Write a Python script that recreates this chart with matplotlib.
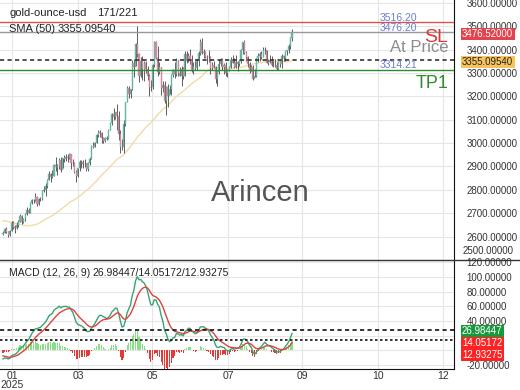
import numpy as np
import pandas as pd
import matplotlib
matplotlib.use("Agg")
import matplotlib.pyplot as plt
from matplotlib.lines import Line2D

plt.rcParams['font.family'] = ['Liberation Sans', 'DejaVu Sans']

# ---- data -------------------------------------------------------------
# 50 bars of history before the visible window (needed for SMA 50 / MACD)
prev_close = [2649, 2663, 2674, 2693, 2721, 2720, 2748, 2715, 2736, 2747,
              2743, 2774, 2788, 2744, 2736, 2736, 2743, 2659, 2706, 2684,
              2619, 2598, 2573, 2565, 2563, 2612, 2631, 2650, 2670, 2716,
              2624, 2633, 2637, 2643, 2640, 2643, 2650, 2632, 2633, 2660,
              2694, 2718, 2680, 2648, 2652, 2646, 2586, 2594, 2622, 2613]

# visible 171 bars
close = [2617, 2634, 2621, 2606, 2624, 2658, 2640, 2635, 2648, 2662,
         2690, 2662, 2677, 2697, 2715, 2703, 2745, 2755, 2755, 2770,
         2740, 2763, 2760, 2795, 2798, 2815, 2842, 2867, 2856, 2861,
         2908, 2898, 2904, 2928, 2883, 2935, 2933, 2939, 2936, 2952,
         2915, 2916, 2876, 2858, 2893, 2918, 2920, 2910, 2910, 2889,
         2916, 2934, 2988, 2984, 3001, 3034, 3047, 3044, 3022, 3011,
         3020, 3019, 3057, 3084, 3124, 3112, 3134, 3114, 3037, 2982,
         2982, 3082, 3175, 3237, 3211, 3230, 3342, 3327, 3424, 3381,
         3288, 3349, 3319, 3343, 3317, 3288, 3239, 3240, 3334, 3431,
         3365, 3306, 3325, 3235, 3248, 3178, 3240, 3203, 3230, 3290,
         3314, 3295, 3357, 3300, 3288, 3318, 3289, 3381, 3352, 3374,
         3352, 3310, 3325, 3323, 3354, 3386, 3432, 3385, 3388, 3369,
         3368, 3368, 3323, 3332, 3327, 3274, 3303, 3339, 3357, 3326,
         3336, 3301, 3313, 3324, 3355, 3344, 3324, 3347, 3339, 3350,
         3397, 3432, 3387, 3368, 3337, 3314, 3326, 3275, 3289, 3363,
         3373, 3380, 3368, 3397, 3398, 3342, 3348, 3356, 3335, 3336,
         3332, 3315, 3348, 3339, 3372, 3365, 3393, 3397, 3416, 3448,
         3476.52]
high = [2622, 2638, 2640, 2624, 2630, 2665, 2665, 2648, 2661, 2670,
        2697, 2694, 2680, 2702, 2725, 2723, 2746, 2763, 2759, 2786,
        2772, 2765, 2770, 2799, 2817, 2830, 2845, 2882, 2872, 2886,
        2911, 2942, 2910, 2935, 2942, 2937, 2947, 2955, 2954, 2956,
        2947, 2930, 2920, 2883, 2894, 2928, 2927, 2927, 2930, 2914,
        2921, 2941, 2990, 3004, 3004, 3038, 3055, 3057, 3047, 3028,
        3025, 3032, 3059, 3087, 3128, 3149, 3135, 3167, 3136, 3055,
        3017, 3099, 3176, 3245, 3245, 3230, 3357, 3358, 3430, 3500,
        3386, 3368, 3371, 3352, 3349, 3328, 3294, 3269, 3337, 3435,
        3437, 3414, 3345, 3327, 3266, 3264, 3246, 3253, 3250, 3295,
        3318, 3345, 3365, 3349, 3326, 3330, 3325, 3393, 3392, 3385,
        3403, 3375, 3345, 3349, 3360, 3396, 3445, 3451, 3404, 3395,
        3376, 3398, 3371, 3347, 3350, 3328, 3309, 3358, 3365, 3366,
        3343, 3345, 3317, 3331, 3369, 3375, 3366, 3377, 3352, 3361,
        3402, 3433, 3439, 3394, 3373, 3345, 3334, 3334, 3315, 3363,
        3385, 3390, 3392, 3409, 3409, 3400, 3358, 3375, 3374, 3349,
        3358, 3345, 3351, 3351, 3379, 3376, 3394, 3398, 3423, 3454,
        3490]
low = [2605, 2614, 2616, 2597, 2603, 2623, 2634, 2614, 2632, 2643,
       2662, 2656, 2659, 2665, 2694, 2700, 2703, 2741, 2742, 2752,
       2730, 2737, 2752, 2757, 2789, 2772, 2809, 2842, 2834, 2852,
       2860, 2880, 2864, 2891, 2877, 2893, 2921, 2924, 2919, 2931,
       2889, 2904, 2873, 2832, 2857, 2880, 2895, 2894, 2897, 2880,
       2880, 2905, 2932, 2978, 2982, 3000, 3025, 3028, 2999, 3000,
       3004, 3012, 3016, 3055, 3076, 3100, 3105, 3054, 3015, 2957,
       2970, 2957, 3072, 3174, 3194, 3192, 3229, 3284, 3329, 3367,
       3260, 3283, 3268, 3266, 3301, 3268, 3202, 3222, 3231, 3324,
       3358, 3287, 3294, 3207, 3219, 3171, 3121, 3154, 3208, 3204,
       3284, 3280, 3287, 3286, 3285, 3245, 3276, 3286, 3344, 3345,
       3338, 3306, 3294, 3312, 3313, 3331, 3377, 3382, 3366, 3363,
       3340, 3348, 3295, 3311, 3321, 3255, 3246, 3296, 3329, 3311,
       3297, 3287, 3283, 3310, 3321, 3342, 3320, 3320, 3310, 3330,
       3344, 3383, 3381, 3351, 3325, 3301, 3308, 3268, 3281, 3282,
       3347, 3352, 3359, 3367, 3380, 3341, 3332, 3343, 3331, 3324,
       3324, 3314, 3311, 3326, 3321, 3351, 3351, 3376, 3386, 3404,
       3436]

month_labels = ["01\n2025", "03", "05", "07", "09", "10", "12"]
month_pos = [5.3, 44.1, 87.6, 132.4, 175.9, 220.6, 258.8]

sl_level, at_price, tp1_level = 3516.20, 3476.20, 3314.21
last_price, sma_last = "3476.52000", "3355.09540"
macd_txt = ["26.98447", "14.05172", "12.93275"]
macd_last, signal_last = 26.98447, 14.05172

# ---- indicators --------------------------------------------------------
allc = pd.Series(prev_close + close, dtype=float)
n0 = len(prev_close)
sma = allc.rolling(50).mean().values[n0:]
ema12 = allc.ewm(span=12, adjust=False).mean()
ema26 = allc.ewm(span=26, adjust=False).mean()
macd = ema12 - ema26
signal = macd.ewm(span=9, adjust=False).mean()
hist = (macd - signal).values[n0:]
macd = macd.values[n0:]
signal = signal.values[n0:]

close = np.array(close, dtype=float)
high = np.array(high, dtype=float)
low = np.array(low, dtype=float)
opn = np.array(prev_close[-1:] + list(close[:-1]), dtype=float)
x = np.arange(len(close))

# ---- figure -------------------------------------------------------------
W, H = 520, 390
fig = plt.figure(figsize=(5.2, 3.9), dpi=100)
def fx(px): return px / W
def fy(py): return 1 - py / H

ax = fig.add_axes([0, fy(260), fx(454), fy(0) - fy(260)])
ax2 = fig.add_axes([0, fy(369), fx(454), fy(260) - fy(369)], sharex=ax)

xl = (-3 / 1.7, (454 - 3) / 1.7)
grid_c = '#e6e6e6'

# price panel
ax.set_xlim(*xl)
ax.set_ylim(2505, 3612)
ax.set_yticks(np.arange(2500, 3700, 100))
ax.yaxis.tick_right()
ax.tick_params(axis='y', length=0, pad=9, labelsize=7, labelcolor='#333333')
ax.yaxis.set_major_formatter(matplotlib.ticker.FormatStrFormatter('%.5f'))
ax.yaxis.get_major_ticks()[0].label2.set_visible(False)
ax.tick_params(axis='x', length=0, labelbottom=False)
ax.set_xticks(month_pos)
ax.grid(True, color=grid_c, lw=0.8)
for s in ['top', 'left', 'bottom']:
    ax.spines[s].set_visible(False)
ax.spines['right'].set_color('#111111')

up = close >= opn
ax.vlines(x, low, high, color='#444444', lw=0.6, zorder=3)
ax.bar(x[up], (close - opn)[up], bottom=opn[up], width=0.7, color='#62b8a4',
       edgecolor='#62b8a4', lw=0.3, zorder=4)
ax.bar(x[~up], (close - opn)[~up], bottom=opn[~up], width=0.7, color='#d8879b',
       edgecolor='#d8879b', lw=0.3, zorder=4)
ax.plot(x, sma, color='#f0dcaa', lw=1, zorder=2)

ax.axhline(sl_level, color='#d9534f', lw=1, zorder=5)
ax.axhline(at_price, color='#999999', lw=1, zorder=5)
ax.axhline(float(sma_last), color='#333333', lw=1.2, ls=(0, (2.5, 2)), zorder=5)
ax.axhline(tp1_level, color='#2e8b2e', lw=1, zorder=5)

# macd panel
ax2.set_xlim(*xl)
ax2.set_ylim(-25.4, 122.9)
ax2.set_yticks([-20, 40, 60, 80, 100, 120])
ax2.set_yticks(np.arange(-20, 140, 20), minor=True)
ax2.yaxis.tick_right()
ax2.tick_params(axis='y', length=0, pad=9, labelsize=7, labelcolor='#333333')
ax2.tick_params(axis='y', which='minor', length=0)
ax2.yaxis.set_major_formatter(matplotlib.ticker.FormatStrFormatter('%.5f'))
ax2.grid(True, which='both', color=grid_c, lw=0.8)
ax2.set_xticks(month_pos)
ax2.set_xticklabels(month_labels, linespacing=0.9)
ax2.tick_params(axis='x', length=0, pad=1.5, labelsize=7.5, labelcolor='#333333')
for s in ['top', 'left']:
    ax2.spines[s].set_visible(False)
ax2.spines['right'].set_color('#111111')
ax2.spines['bottom'].set_color('#111111')

hcol = np.where(hist >= 0, '#86e086', '#e53935')
ax2.bar(x, hist, width=0.6, color=hcol, zorder=2)
ax2.plot(x, macd, color='#3aa374', lw=1, zorder=3)
ax2.plot(x, signal, color='#d9453f', lw=1, zorder=3)
ax2.axhline(macd_last, color='#111111', lw=1.2, ls=(0, (2.5, 2)), zorder=4)
ax2.axhline(signal_last, color='#111111', lw=1.2, ls=(0, (1.5, 1.5)), zorder=4)

# separator line between panels
fig.add_artist(Line2D([0, 1], [fy(260), fy(260)], color='#333333', lw=1))

# ---- texts --------------------------------------------------------------
fig.text(fx(9), fy(13), "gold-ounce-usd", fontsize=8, color='#222222', va='center')
fig.text(fx(97), fy(13), "171/221", fontsize=8, color='#222222', va='center')
fig.text(fx(9), fy(29), "SMA (50)", fontsize=8, color='#222222', va='center')
fig.text(fx(58), fy(29), sma_last, fontsize=8, color='#222222', va='center')

# lowest price label sits just above the panel separator
fig.text(fx(463), fy(251), "2500.00000", fontsize=7, color='#333333', va='center')

for lv, yy in [(sl_level, 18), (at_price, 28), (tp1_level, 65)]:
    fig.text(fx(380), fy(yy), "%.2f" % lv, fontsize=7.5, color='#6a7fd0', va='center')

fig.text(fx(448), fy(37), "SL", fontsize=14, color='#e0343a', ha='right', va='center')
fig.text(fx(448), fy(47), "At Price", fontsize=12, color='#8c8c8c', ha='right', va='center')
fig.text(fx(448), fy(84), "TP1", fontsize=13, color='#2e8b2e', ha='right', va='center')
fig.text(fx(260), fy(193), "Arincen", fontsize=21, color='#555555', ha='center', va='center')

fig.text(fx(9), fy(273), "MACD (12, 26, 9)", fontsize=7.5, color='#222222', va='center')
fig.text(fx(92), fy(273), "/".join(macd_txt), fontsize=7.5, color='#222222', va='center')

def tag(yy, txt, fc, tc):
    fig.text(fx(462), fy(yy), txt, fontsize=7, color=tc, va='center', ha='left',
             bbox=dict(boxstyle='square,pad=0.15', fc=fc, ec='none'))

tag(34, last_price, '#e4424d', 'white')
tag(62, sma_last, '#f7c35c', '#222222')
tag(331, macd_txt[0], '#15993c', 'white')
tag(343, macd_txt[1], '#ff2222', 'white')
tag(355, macd_txt[2], '#ff2222', 'white')

fig.savefig("out.png", dpi=100, facecolor='white')
